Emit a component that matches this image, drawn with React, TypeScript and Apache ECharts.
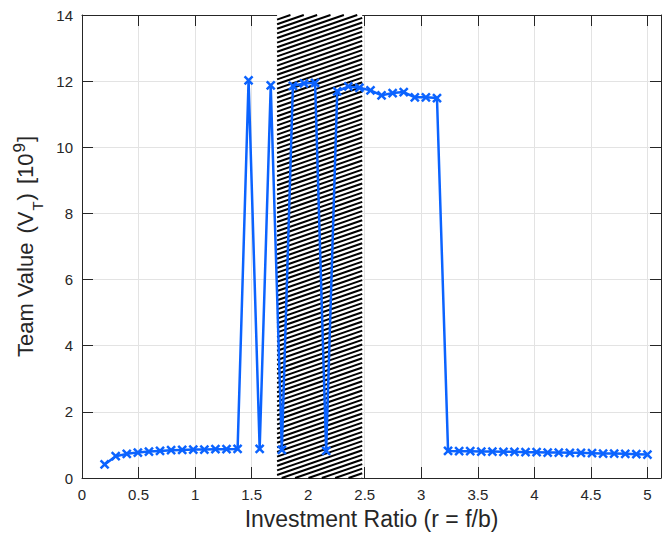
import React, { useEffect, useRef } from "react";
import * as echarts from "echarts";

const investmentRatio = [
  0.2, 0.298, 0.396, 0.494, 0.592, 0.69, 0.788, 0.886, 0.984, 1.082,
  1.18, 1.278, 1.376, 1.473, 1.571, 1.669, 1.767, 1.865, 1.963, 2.061,
  2.159, 2.257, 2.355, 2.453, 2.551, 2.649, 2.747, 2.845, 2.943, 3.041,
  3.139, 3.237, 3.335, 3.433, 3.531, 3.629, 3.727, 3.824, 3.922, 4.02,
  4.118, 4.216, 4.314, 4.412, 4.51, 4.608, 4.706, 4.804, 4.902, 5.0,
];
const teamValue = [
  0.41, 0.66, 0.73, 0.77, 0.8, 0.82, 0.84, 0.85, 0.86, 0.86,
  0.87, 0.87, 0.88, 12.02, 0.88, 11.87, 0.85, 11.86, 11.93, 11.95,
  0.82, 11.69, 11.84, 11.8, 11.72, 11.57, 11.64, 11.67, 11.51, 11.51,
  11.49, 0.82, 0.81, 0.81, 0.8, 0.8, 0.79, 0.79, 0.78, 0.78,
  0.77, 0.77, 0.76, 0.76, 0.75, 0.74, 0.74, 0.73, 0.72, 0.71,
];
const hatchRange = [1.725, 2.478];
const xMin = 0;
const xMax = 5.12;
const xStep = 0.5;
const yMin = 0;
const yMax = 14;
const yStep = 2;

const FONT = "'Liberation Sans', Arial, Helvetica, sans-serif";
const AXIS = "#262626";
const GRID = "#e3e3e3";
const BLUE = "#0b63ff";

export default function App() {
  const ref = useRef<HTMLDivElement>(null);
  useEffect(() => {
    if (!ref.current) return;
    const chart = echarts.init(ref.current, undefined, { renderer: "svg" });
    const tickCommon = { inside: true, length: 11, lineStyle: { color: AXIS, width: 1 } };
    const option: any = {
      animation: false,
      backgroundColor: "#ffffff",
      grid: { left: 82, right: 1, top: 15, bottom: 59, containLabel: false, outerBoundsMode: "none" },
      xAxis: [
        {
          type: "value", min: xMin, max: xMax, interval: xStep, position: "bottom",
          axisLine: { show: true, onZero: false, lineStyle: { color: AXIS, width: 1 } },
          axisTick: tickCommon,
          axisLabel: { color: AXIS, fontSize: 15, fontFamily: FONT, margin: 9 },
          splitLine: { show: true, lineStyle: { color: GRID, width: 1 } },
          name: "Investment Ratio (r = f/b)", nameLocation: "middle", nameGap: 29,
          nameTextStyle: { color: AXIS, fontSize: 23, fontFamily: FONT },
        },
        {
          type: "value", min: xMin, max: xMax, interval: xStep, position: "top",
          axisLine: { show: true, onZero: false, lineStyle: { color: AXIS, width: 1 } },
          axisTick: tickCommon, axisLabel: { show: false }, splitLine: { show: false },
        },
      ],
      yAxis: [
        {
          type: "value", min: yMin, max: yMax, interval: yStep, position: "left",
          axisLine: { show: true, onZero: false, lineStyle: { color: AXIS, width: 1 } },
          axisTick: tickCommon,
          axisLabel: { color: AXIS, fontSize: 15, fontFamily: FONT, margin: 9 },
          splitLine: { show: true, lineStyle: { color: GRID, width: 1 } },
          name: "{a|Team Value}{b|(V}{sub|T}{c|)}{d|[10}{sup|9}{e|]}",
          nameLocation: "middle", nameGap: 34, nameRotate: 90,
          nameTextStyle: {
            color: AXIS, fontFamily: FONT,
            rich: {
              a: { fontSize: 22, fontFamily: FONT, color: AXIS, lineHeight: 40, verticalAlign: "middle" },
              b: { fontSize: 22, fontFamily: FONT, color: AXIS, lineHeight: 40, verticalAlign: "middle", padding: [0, 0, 0, 9] },
              c: { fontSize: 22, fontFamily: FONT, color: AXIS, lineHeight: 40, verticalAlign: "middle", padding: [0, 0, 0, 1] },
              d: { fontSize: 22, fontFamily: FONT, color: AXIS, lineHeight: 40, verticalAlign: "middle", padding: [0, 0, 0, 9] },
              e: { fontSize: 22, fontFamily: FONT, color: AXIS, lineHeight: 40, verticalAlign: "middle", padding: [0, 0, 0, 1] },
              sub: { fontSize: 15, fontFamily: FONT, color: AXIS, lineHeight: 15, verticalAlign: "bottom", padding: [0, 0, 0, 1] },
              sup: { fontSize: 17, fontFamily: FONT, color: AXIS, lineHeight: 17, verticalAlign: "top", padding: [6, 0, 0, 1] },
            },
          },
        },
        {
          type: "value", min: yMin, max: yMax, interval: yStep, position: "right",
          axisLine: { show: true, onZero: false, lineStyle: { color: AXIS, width: 1 } },
          axisTick: tickCommon, axisLabel: { show: false }, splitLine: { show: false },
        },
      ],
      series: [
        {
          type: "custom",
          xAxisIndex: 0,
          yAxisIndex: 0,
          z: 1,
          silent: true,
          data: [[hatchRange[0], hatchRange[1]]],
          renderItem: (params: any, api: any) => {
            const x0 = api.value(0);
            const x1 = api.value(1);
            const pTL = api.coord([x0, yMax]);
            const pBR = api.coord([x1, yMin]);
            const L = pTL[0], T = pTL[1], R = pBR[0], B = pBR[1];
            const t = Math.tan((19 * Math.PI) / 180);
            const s = 4.6;
            const children: any[] = [
              { type: "rect", shape: { x: L, y: T, width: R - L, height: B - T }, style: { fill: "#ffffff" } },
            ];
            for (let c = T; c <= B + t * (R - L) + s; c += s) {
              const xb = L + (c - B) / t;
              const xt = L + (c - T) / t;
              const xs = Math.max(L, xb);
              const xe = Math.min(R, xt);
              if (xe <= xs) continue;
              const ys = c - t * (xs - L);
              const ye = c - t * (xe - L);
              children.push({
                type: "line",
                shape: { x1: xs, y1: ys, x2: xe, y2: ye },
                style: { stroke: "#000000", lineWidth: 2 },
              });
            }
            return { type: "group", children };
          },
        },
        {
          type: "line",
          xAxisIndex: 0,
          yAxisIndex: 0,
          z: 5,
          data: investmentRatio.map((x, i) => [x, teamValue[i]]),
          symbol: "path://M0 0L10 10M10 0L0 10",
          symbolSize: 8,
          showSymbol: true,
          lineStyle: { color: BLUE, width: 2.5 },
          itemStyle: { color: BLUE, borderColor: BLUE, borderWidth: 2.5 },
        },
      ],
    };
    chart.setOption(option);
    return () => chart.dispose();
  }, []);
  return (
    <div
      ref={ref}
      style={{ position: "fixed", left: 0, top: 0, width: 662, height: 537, overflow: "hidden" }}
    />
  );
}
